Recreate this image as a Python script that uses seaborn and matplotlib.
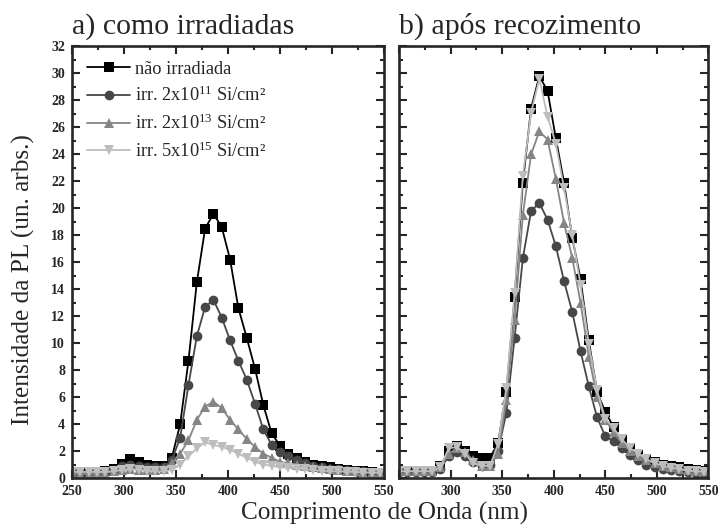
import matplotlib
matplotlib.use("Agg")
import matplotlib.pyplot as plt
from matplotlib.ticker import MultipleLocator
import pandas as pd
import seaborn as sns

wavelength = [250, 258, 266, 274, 282, 290, 298, 306, 314, 322, 330, 338, 346,
              354, 362, 370, 378, 386, 394, 402, 410, 418, 426, 434, 442, 450,
              458, 466, 474, 482, 490, 498, 506, 514, 522, 530, 538, 546]

series_names = ["não irradiada",
                "irr. 2x10$^{11}$ Si/cm²",
                "irr. 2x10$^{13}$ Si/cm²",
                "irr. 5x10$^{15}$ Si/cm²"]

# a) como irradiadas
ref_a = [0.45, 0.45, 0.45, 0.45, 0.5, 0.7, 1.05, 1.4, 1.2, 1.0, 0.9, 0.9, 1.5, 4.0, 8.7, 14.5, 18.5, 19.6, 18.6,
         16.2, 12.6, 10.4, 8.1, 5.4, 3.3, 2.4, 1.8, 1.5, 1.2, 1.0, 0.9, 0.8, 0.7, 0.6, 0.55, 0.5, 0.45, 0.4]
e11_a = [0.4, 0.4, 0.4, 0.45, 0.5, 0.6, 0.9, 1.0, 0.9, 0.85, 0.8, 0.8, 1.3, 3.0, 6.9, 10.5, 12.7, 13.2, 11.9,
         10.2, 8.7, 7.3, 5.5, 3.6, 2.45, 1.9, 1.6, 1.3, 1.1, 0.9, 0.8, 0.7, 0.65, 0.6, 0.5, 0.5, 0.45, 0.4]
e13_a = [0.3, 0.3, 0.3, 0.35, 0.4, 0.5, 0.6, 0.7, 0.6, 0.6, 0.6, 0.7, 1.1, 1.8, 2.8, 4.3, 5.3, 5.65, 5.2,
         4.3, 3.6, 2.9, 2.3, 1.8, 1.5, 1.2, 1.1, 1.0, 0.9, 0.8, 0.75, 0.7, 0.6, 0.55, 0.5, 0.45, 0.4, 0.35]
e15_a = [0.45, 0.45, 0.45, 0.45, 0.45, 0.5, 0.6, 0.65, 0.6, 0.55, 0.5, 0.5, 0.6, 1.0, 1.6, 2.2, 2.65, 2.45, 2.3,
         2.1, 1.8, 1.5, 1.2, 1.0, 0.9, 0.8, 0.75, 0.7, 0.65, 0.6, 0.55, 0.5, 0.5, 0.45, 0.45, 0.4, 0.4, 0.4]

# b) após recozimento
ref_b = [0.5, 0.5, 0.5, 0.5, 0.5, 0.9, 2.0, 2.4, 2.0, 1.6, 1.5, 1.5, 2.6, 6.4, 13.4, 21.9, 27.4, 29.8, 28.7,
         25.2, 21.9, 17.8, 14.75, 10.2, 6.4, 4.9, 3.8, 2.8, 2.2, 1.7, 1.4, 1.2, 1.0, 0.9, 0.8, 0.7, 0.6, 0.55]
e11_b = [0.45, 0.45, 0.45, 0.45, 0.45, 0.7, 1.6, 1.9, 1.6, 1.2, 0.9, 1.0, 2.0, 4.85, 10.4, 16.3, 19.8, 20.4, 19.15,
         17.2, 14.6, 12.3, 9.4, 6.8, 4.5, 3.1, 2.75, 2.2, 1.7, 1.3, 1.0, 0.8, 0.7, 0.6, 0.5, 0.45, 0.4, 0.4]
e13_b = [0.5, 0.5, 0.5, 0.5, 0.5, 0.8, 1.8, 2.2, 1.9, 1.3, 0.9, 0.9, 1.8, 5.8, 11.7, 19.5, 24.0, 25.7, 25.1,
         22.2, 18.9, 16.3, 13.0, 9.0, 6.0, 4.3, 3.4, 2.6, 2.0, 1.6, 1.3, 1.1, 0.9, 0.8, 0.7, 0.6, 0.5, 0.5]
e15_b = [0.5, 0.5, 0.5, 0.5, 0.5, 0.8, 2.2, 2.3, 1.8, 1.1, 0.9, 0.9, 2.5, 6.7, 13.7, 22.4, 27.1, 29.6, 26.8,
         24.8, 21.5, 18.0, 14.3, 9.9, 6.5, 4.4, 3.7, 2.9, 2.2, 1.8, 1.4, 1.1, 0.9, 0.75, 0.65, 0.55, 0.5, 0.45]

colors = ["#000000", "#474747", "#858585", "#bdbdbd"]
markers = ["s", "o", "^", "v"]


def long_table(cols):
    frames = []
    for name, vals in zip(series_names, cols):
        frames.append(pd.DataFrame({"nm": wavelength, "PL": vals, "amostra": name}))
    return pd.concat(frames, ignore_index=True)


df_a = long_table([ref_a, e11_a, e13_a, e15_a])
df_b = long_table([ref_b, e11_b, e13_b, e15_b])

sns.set_theme(style="ticks")
plt.rcParams["font.family"] = ["Liberation Serif", "DejaVu Serif"]
plt.rcParams["mathtext.fontset"] = "custom"
plt.rcParams["mathtext.rm"] = "Liberation Serif"
plt.rcParams["mathtext.it"] = "Liberation Serif"

fig = plt.figure(figsize=(7.18, 5.24), dpi=100)
ax1 = fig.add_axes([0.1003, 0.0878, 0.4345, 0.8235])
ax2 = fig.add_axes([0.556, 0.0878, 0.4305, 0.8235])

for ax, df, show_leg in [(ax1, df_a, True), (ax2, df_b, False)]:
    sns.lineplot(data=df, x="nm", y="PL", hue="amostra", style="amostra",
                 palette=colors, markers=markers, dashes=False,
                 linewidth=1.3, markersize=7, markeredgewidth=0,
                 legend=show_leg, ax=ax)
    ax.set_xlim(250, 550)
    ax.set_ylim(0, 32)
    ax.xaxis.set_major_locator(MultipleLocator(50))
    ax.xaxis.set_minor_locator(MultipleLocator(25))
    ax.yaxis.set_major_locator(MultipleLocator(2))
    ax.yaxis.set_minor_locator(MultipleLocator(1))
    ax.tick_params(which="both", direction="in", top=True, right=True,
                   width=1.5, labelsize=10, pad=5)
    ax.tick_params(which="major", length=6)
    ax.tick_params(which="minor", length=3)
    for s in ax.spines.values():
        s.set_linewidth(1.9)
    ax.set_xlabel("")
    ax.set_ylabel("")

ax1.set_xticks([250, 300, 350, 400, 450, 500, 550])
ax1.set_xticklabels(["250", "300", "350", "400", "450", "500", "550"])
ax2.set_xticks([250, 300, 350, 400, 450, 500, 550])
ax2.set_xticklabels(["", "300", "350", "400", "450", "500", "550"])
ax2.set_yticklabels([])
for ax in (ax1, ax2):
    for lab in ax.get_xticklabels() + ax.get_yticklabels():
        lab.set_fontweight("bold")

sns.move_legend(ax1, "upper left", frameon=False, title=None, fontsize=13.2,
                handlelength=2.3, handletextpad=0.27, labelspacing=0.45,
                bbox_to_anchor=(0.026, 0.984), borderaxespad=0)

ax1.text(0.0, 1.015, "a) como irradiadas", transform=ax1.transAxes,
         fontsize=21.5, ha="left", va="bottom")
ax2.text(0.0, 1.015, "b) após recozimento", transform=ax2.transAxes,
         fontsize=21.5, ha="left", va="bottom")
ax1.set_ylabel("Intensidade da PL (un. arbs.)", fontsize=18.2)
ax1.yaxis.set_label_coords(-0.118, 0.46)
fig.text(0.535, -0.002, "Comprimento de Onda (nm)", fontsize=18.2,
         ha="center", va="bottom")

fig.savefig("out.png", dpi=100)
